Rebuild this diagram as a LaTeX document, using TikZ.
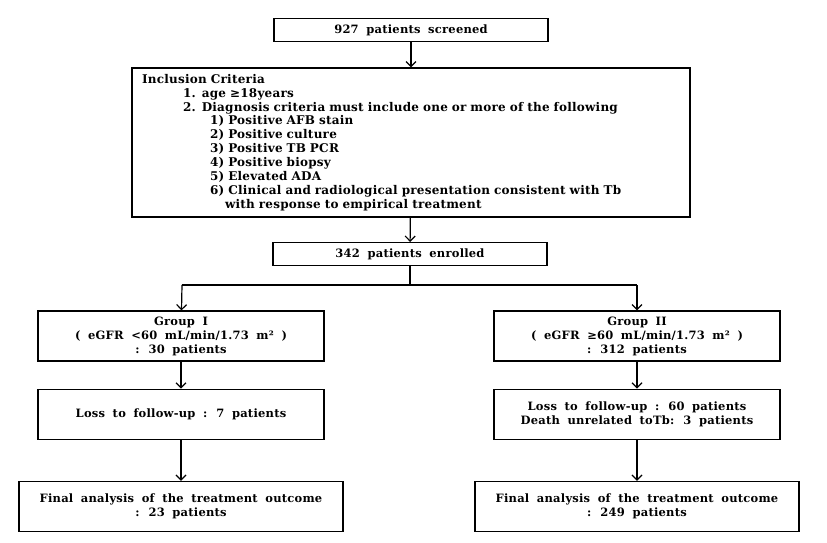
\documentclass[tikz,border=0pt]{standalone}
\usepackage{fontspec}
\setmainfont{DejaVu Serif}[WordSpace=1.8, LetterSpace=2]
\usetikzlibrary{arrows.meta,positioning}

\begin{document}
\begin{tikzpicture}
[
x=1pt, y=1pt,
>={Straight Barb[length=5pt,width=10pt]},
box/.style={rectangle, draw=black, line width=1.2pt, inner sep=2pt, align=center, font=\bfseries\fontsize{11.5}{14}\selectfont},
narrow/.style={box, minimum width=274pt, minimum height=23pt},
group/.style={box, minimum width=286pt, minimum height=50pt},
final/.style={box, minimum width=324pt, minimum height=50pt},
criteria/.style={box, align=left, inner xsep=10pt, text width=538pt, minimum height=149pt, font=\bfseries\fontsize{12}{13.9}\selectfont}
]
\useasboundingbox (0,0) rectangle (827,-543);

%Nodes
\node[narrow]    (screen)   at (411,-30)    {927 patients screened};
\node[criteria]  (crit)     at (411,-142.5) {Inclusion Criteria\\
\hspace*{41pt}1. age ≥18years\\
\hspace*{41pt}2. Diagnosis criteria must include one or more of the following\\
\hspace*{68pt}1) Positive AFB stain\\
\hspace*{68pt}2) Positive culture\\
\hspace*{68pt}3) Positive TB PCR\\
\hspace*{68pt}4) Positive biopsy\\
\hspace*{68pt}5) Elevated ADA\\
\hspace*{68pt}6) Clinical and radiological presentation consistent with Tb\\
\hspace*{83pt}with response to empirical treatment};
\node[narrow]    (enrolled) at (410,-254)   {342 patients enrolled};
\coordinate      (split)    at (410,-285);
\coordinate      (left)     at (182,-285);
\coordinate      (right)    at (637,-285);
\node[group]     (g1)       at (181,-336)   {Group I\\( eGFR <60 mL/min/1.73 m² )\\: 30 patients};
\node[group]     (g2)       at (637,-336)   {Group II\\( eGFR ≥60 mL/min/1.73 m² )\\: 312 patients};
\node[group]     (loss1)    [below=27pt of g1]    {Loss to follow-up : 7 patients};
\node[group]     (loss2)    [below=27pt of g2]    {Loss to follow-up : 60 patients\\Death unrelated toTb: 3 patients};
\node[final]     (final1)   [below=41pt of loss1] {Final analysis of the treatment outcome\\: 23 patients};
\node[final]     (final2)   [below=41pt of loss2] {Final analysis of the treatment outcome\\: 249 patients};

%Lines
\draw[line width=1.2pt] (enrolled) -- (split);
\draw[line width=1.2pt] (left) -- (right);
\path[->, line width=1.2pt]
(screen)  edge    (crit)
(crit)    edge    (enrolled)
(left)    edge    (g1)
(right)   edge    (g2)
(g1)      edge    (loss1)
(g2)      edge    (loss2)
(loss1)   edge    (final1)
(loss2)   edge    (final2);
\end{tikzpicture}
\end{document}
